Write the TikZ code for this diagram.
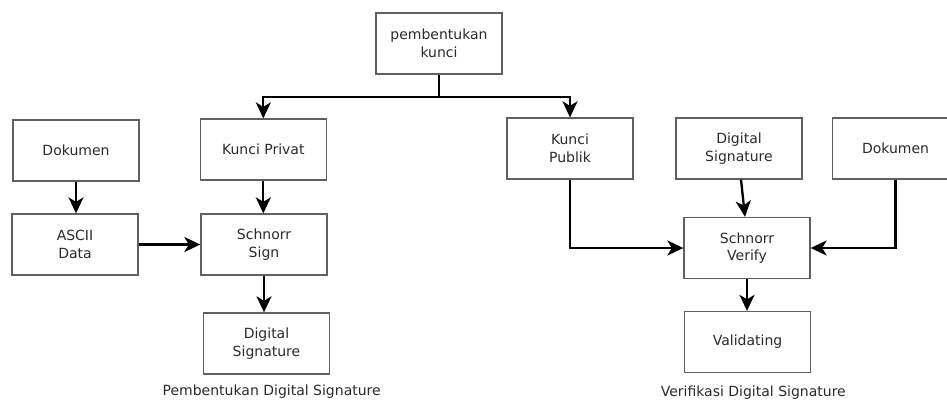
\documentclass[tikz,border=0pt]{standalone}
\usepackage{fontspec}
\setmainfont{DejaVu Sans}
\usetikzlibrary{arrows.meta}
\definecolor{txt}{HTML}{2A2A2A}
\definecolor{bord}{HTML}{606060}
\begin{document}
\begin{tikzpicture}[x=1pt,y=-1pt,
  box/.style={draw=bord,line width=1.3pt,minimum width=126pt,minimum height=61pt,inner sep=0pt,
    align=center,text=txt,font=\fontsize{14}{17.5}\selectfont},
  captext/.style={text=txt,font=\fontsize{14}{17}\selectfont,inner sep=0pt},
  conn/.style={draw=black,line width=2.3pt},
  arr/.style={conn,-{Stealth[length=16pt,width=15pt,inset=4.5pt]}}]
\useasboundingbox (0,0) rectangle (947,401);
\clip (0,0) rectangle (947,401);
\node[box] (pk) at (439,43.5) {pembentukan\\kunci};
\node[box] (dok1) at (76,150.5) {Dokumen};
\node[box] (kpriv) at (263.3,149.5) {Kunci Privat};
\node[box] (kpub) at (570,148.5) {Kunci\\Publik};
\node[box] (ds1) at (739,148.5) {Digital\\Signature};
\node[box] (dok2) at (895.5,148.5) {Dokumen};
\node[box] (ascii) at (75,244.5) {ASCII\\Data};
\node[box] (ssign) at (264,244.5) {Schnorr\\Sign};
\node[box] (ds2) at (266.5,343.5) {Digital\\Signature};
\node[box] (sverify) at (747,248) {Schnorr\\Verify};
\node[box] (valid) at (747.5,342) {Validating};
\node[captext] (c1) at (271.7,392) {Pembentukan Digital Signature};
\node[captext] (c2) at (753.3,393) {Verifikasi Digital Signature};
\coordinate (j) at (439,97);
\draw[conn] (pk.south) -- (j);
\draw[arr] (j) -| (kpriv.north);
\draw[arr] (j) -| (kpub.north);
\draw[arr] (dok1.south) -- (dok1.south |- ascii.north);
\draw[arr] (kpriv.south) -- (kpriv.south |- ssign.north);
\draw[arr] (ascii.east) -- (ssign.west);
\draw[arr] (ssign.south) -- (ssign.south |- ds2.north);
\draw[arr] (kpub.south) |- (sverify.west);
\draw[arr] (dok2.south) |- (sverify.east);
\draw[arr] ([xshift=2pt]ds1.south) -- ([xshift=-2pt]sverify.north);
\draw[arr] (sverify.south) -- (sverify.south |- valid.north);
\end{tikzpicture}
\end{document}
